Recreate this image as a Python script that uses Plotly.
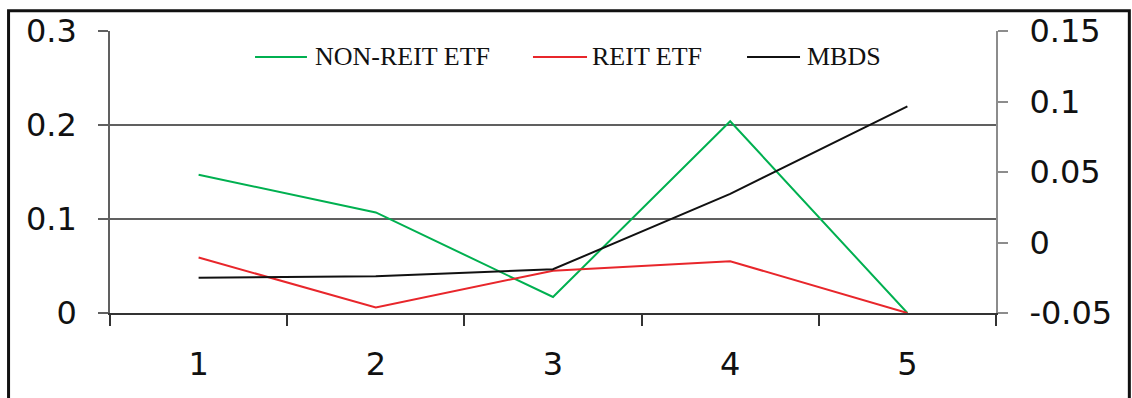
import plotly.graph_objects as go

categories = ["1", "2", "3", "4", "5"]
non_reit_etf = [0.147, 0.107, 0.017, 0.204, 0.0]
reit_etf = [0.059, 0.006, 0.045, 0.055, 0.0]
mbds = [-0.025, -0.024, -0.019, 0.0345, 0.0965]

series_names = ["NON-REIT ETF", "REIT ETF", "MBDS"]
series_colors = ["#00B050", "#E8262B", "#111111"]

left_tickvals = [0, 0.1, 0.2, 0.3]
left_ticktext = ["0", "0.1", "0.2", "0.3"]
right_tickvals = [-0.05, 0, 0.05, 0.1, 0.15]
right_ticktext = ["-0.05", "0", "0.05", "0.1", "0.15"]

tick_font = dict(family="DejaVu Sans", size=32, color="#111111")
legend_font = dict(family="Liberation Serif", size=26, color="#111111")

fig = go.Figure()
fig.add_trace(go.Scatter(x=categories, y=non_reit_etf, mode="lines", name=series_names[0],
                         line=dict(color=series_colors[0], width=2), yaxis="y"))
fig.add_trace(go.Scatter(x=categories, y=reit_etf, mode="lines", name=series_names[1],
                         line=dict(color=series_colors[1], width=2), yaxis="y"))
fig.add_trace(go.Scatter(x=categories, y=mbds, mode="lines", name=series_names[2],
                         line=dict(color=series_colors[2], width=2), yaxis="y2"))

# custom legend (line sample + text), layout only
legend_y = 0.908
legend_items = [(0.1637, 0.2223, 0.2291), (0.4774, 0.5384, 0.5418), (0.7190, 0.7788, 0.7844)]
shapes = [
    # white legend box hiding the top gridline
    dict(type="rect", xref="paper", yref="paper", x0=0.114, x1=0.9086, y0=0.80, y1=1.03,
         fillcolor="white", line=dict(width=0), layer="between"),
    # outer frame
    dict(type="rect", xref="paper", yref="paper", x0=-0.1145, x1=1.1505, y0=-0.33, y1=1.072,
         line=dict(color="#111111", width=3), fillcolor="rgba(0,0,0,0)", layer="above"),
]
annotations = []
for (x0, x1, xt), name, col in zip(legend_items, series_names, series_colors):
    shapes.append(dict(type="line", xref="paper", yref="paper", x0=x0, x1=x1, y0=legend_y, y1=legend_y,
                       line=dict(color=col, width=2), layer="above"))
    annotations.append(dict(xref="paper", yref="paper", x=xt, y=legend_y, text=name, showarrow=False,
                            xanchor="left", yanchor="middle", font=legend_font))

fig.update_layout(
    width=1132, height=398,
    margin=dict(l=110, r=136, t=29, b=85),
    paper_bgcolor="white", plot_bgcolor="white",
    showlegend=False,
    shapes=shapes, annotations=annotations,
    xaxis=dict(type="category", categoryorder="array", categoryarray=categories,
               range=[-0.5, 4.5], tickson="boundaries", ticks="outside", ticklen=11,
               tickcolor="#333333", tickwidth=1.5, showline=True, linecolor="#333333", linewidth=1.5,
               showgrid=False, zeroline=False, tickfont=tick_font, ticklabelstandoff=22),
    yaxis=dict(range=[0, 0.3], tickvals=left_tickvals, ticktext=left_ticktext,
               ticks="outside", ticklen=10, tickcolor="#606060", tickwidth=1.5,
               showline=True, linecolor="#606060", linewidth=1.5,
               showgrid=True, gridcolor="#606060", gridwidth=1.5, zeroline=False,
               tickfont=tick_font, ticklabelstandoff=15),
    yaxis2=dict(range=[-0.05, 0.15], tickvals=right_tickvals, ticktext=right_ticktext,
                overlaying="y", side="right", ticks="outside", ticklen=10,
                tickcolor="#8c8c8c", tickwidth=2, showline=True, linecolor="#8c8c8c", linewidth=2,
                showgrid=False, zeroline=False, tickfont=tick_font, ticklabelstandoff=15),
)

fig.write_html("out.html")
